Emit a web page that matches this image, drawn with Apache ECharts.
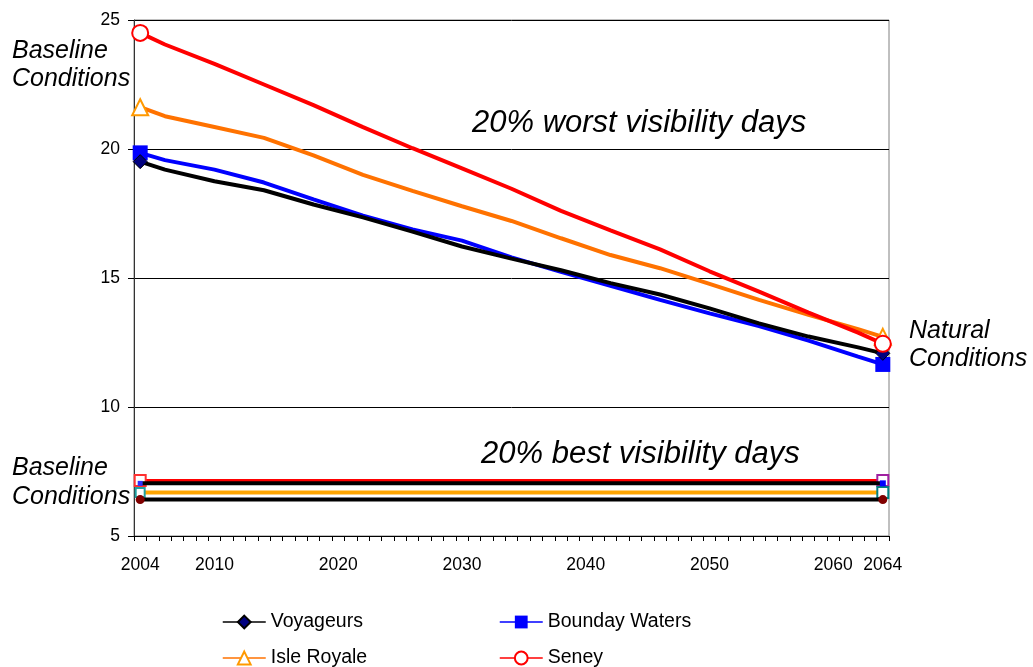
<!DOCTYPE html>
<html>
<head>
<meta charset="utf-8">
<script src="https://cdn.jsdelivr.net/npm/echarts@6/dist/echarts.min.js"></script>
<style>
html,body{margin:0;padding:0;background:#fff;}
#chart{width:1033px;height:667px;}
</style>
</head>
<body>
<div id="chart"></div>
<script>
// ---- categories ----
const firstYear = 2004;
const lastYear = 2064;
const labelYears = ['2004','2010','2020','2030','2040','2050','2060','2064'];

// ---- 20% worst days (values read at these years) ----
const readYears = [2004, 2006, 2010, 2014, 2018, 2022, 2026, 2030, 2034, 2038, 2042, 2046, 2050, 2054, 2058, 2062, 2064];
const voyageurs   = [19.51, 19.20, 18.75, 18.40, 17.85, 17.35, 16.80, 16.22, 15.75, 15.30, 14.80, 14.36, 13.82, 13.24, 12.73, 12.31, 12.08];
const boundary    = [19.85, 19.57, 19.20, 18.70, 18.05, 17.42, 16.88, 16.45, 15.80, 15.24, 14.70, 14.15, 13.63, 13.14, 12.57, 11.95, 11.65];
const isleRoyale  = [21.62, 21.27, 20.85, 20.43, 19.75, 19.00, 18.38, 17.78, 17.21, 16.54, 15.89, 15.38, 14.77, 14.15, 13.57, 13.02, 12.72];
const seney       = [24.50, 24.05, 23.30, 22.50, 21.70, 20.85, 20.03, 19.25, 18.46, 17.60, 16.85, 16.11, 15.26, 14.47, 13.66, 12.88, 12.45];

// ---- 20% best days (flat lines, value at 2004 and 2064) ----
const bestSeney     = [7.15, 7.15];
const bestBoundary  = [7.04, 7.04];
const bestIsle      = [6.69, 6.69];
const bestVoyageurs = [6.41, 6.41];

// ---- axis ----
const yMin = 5, yMax = 25, yStep = 5;

const categories = [];
for (let y = firstYear; y <= lastYear; y++) categories.push(String(y));

function worstData(vals, sym, size) {
  const arr = categories.map(() => null);
  readYears.forEach((yr, i) => {
    const idx = yr - firstYear;
    const isEnd = (i === 0 || i === readYears.length - 1);
    arr[idx] = isEnd ? {value: vals[i], symbol: sym, symbolSize: size}
                     : {value: vals[i], symbol: 'none'};
  });
  return arr;
}
function bestData(vals, startSym, endSym) {
  const arr = categories.map(() => null);
  arr[0] = {value: vals[0], symbol: startSym.s, symbolSize: startSym.size, itemStyle: startSym.style};
  arr[categories.length - 1] = {value: vals[1], symbol: endSym.s, symbolSize: endSym.size, itemStyle: endSym.style};
  return arr;
}

const FONT = '"Liberation Sans", Arial, sans-serif';

const chart = echarts.init(document.getElementById('chart'), null, {renderer: 'canvas'});

const series = [
  {
    name: 'Voyageurs', type: 'line', symbol: 'diamond', symbolSize: 14, showAllSymbol: true,
    connectNulls: true, z: 5,
    data: worstData(voyageurs, 'diamond', 14),
    lineStyle: {color: '#000000', width: 4},
    itemStyle: {color: '#000080', borderColor: '#000000', borderWidth: 1}
  },
  {
    name: 'Bounday Waters', type: 'line', symbol: 'rect', symbolSize: 15, showAllSymbol: true,
    connectNulls: true, z: 4,
    data: worstData(boundary, 'rect', 15),
    lineStyle: {color: '#0000FF', width: 4},
    itemStyle: {color: '#0000FF'}
  },
  {
    name: 'Isle Royale', type: 'line', symbol: 'emptyTriangle', symbolSize: 16, showAllSymbol: true,
    connectNulls: true, z: 3,
    data: worstData(isleRoyale, 'emptyTriangle', 16),
    lineStyle: {color: '#FF7200', width: 4},
    itemStyle: {color: '#FF9900', borderWidth: 1.5}
  },
  {
    name: 'Seney', type: 'line', symbol: 'emptyCircle', symbolSize: 16, showAllSymbol: true,
    connectNulls: true, z: 6,
    data: worstData(seney, 'emptyCircle', 16),
    lineStyle: {color: '#FF0000', width: 4},
    itemStyle: {color: '#FF0000', borderWidth: 1.5}
  },
  {
    name: 'best-seney', type: 'line', showAllSymbol: true, connectNulls: true, z: 3,
    data: bestData(bestSeney,
      {s: 'emptyRect', size: 11, style: {color: '#FF3030'}},
      {s: 'emptyRect', size: 11, style: {color: '#A020A0'}}),
    lineStyle: {color: '#FF0000', width: 3},
    itemStyle: {color: '#FF0000', borderWidth: 1}
  },
  {
    name: 'best-boundary', type: 'line', showAllSymbol: true, connectNulls: true, z: 4,
    data: bestData(bestBoundary,
      {s: 'rect', size: 5, style: {color: '#3030FF'}},
      {s: 'rect', size: 6, style: {color: '#0000FF'}}),
    lineStyle: {color: '#000000', width: 4},
    itemStyle: {color: '#0000FF'}
  },
  {
    name: 'best-isle', type: 'line', showAllSymbol: true, connectNulls: true, z: 3,
    data: bestData(bestIsle,
      {s: 'emptyRect', size: 9, style: {color: '#20A0A0'}},
      {s: 'emptyRect', size: 11, style: {color: '#008080'}}),
    lineStyle: {color: '#FFA500', width: 4},
    itemStyle: {color: '#008080', borderWidth: 1}
  },
  {
    name: 'best-voyageurs', type: 'line', showAllSymbol: true, connectNulls: true, z: 4,
    data: bestData(bestVoyageurs,
      {s: 'circle', size: 9, style: {color: '#800000'}},
      {s: 'circle', size: 9, style: {color: '#800000'}}),
    lineStyle: {color: '#000000', width: 4},
    itemStyle: {color: '#800000'}
  }
];

function legendAt(name, left, top) {
  return {
    data: [name], left: left, top: top, itemWidth: 43, itemHeight: 16, itemGap: 5,
    selectedMode: false, padding: 0,
    textStyle: {fontFamily: FONT, fontSize: 19.5, color: '#000'},
    lineStyle: {width: 1.5}
  };
}

function txt(text, x, y, size) {
  return {
    type: 'text', left: x, top: y, z: 100,
    style: {text: text, fill: '#000', font: 'italic ' + size + 'px ' + FONT}
  };
}

const option = {
  animation: false,
  backgroundColor: '#ffffff',
  grid: {left: 134, right: 144, top: 20, bottom: 131, show: true, borderColor: '#808080', borderWidth: 1, backgroundColor: 'transparent'},
  legend: [
    legendAt('Voyageurs', 222, 612),
    legendAt('Bounday Waters', 499, 612),
    legendAt('Isle Royale', 222, 648),
    legendAt('Seney', 499, 648)
  ],
  xAxis: {
    type: 'category', data: categories, boundaryGap: true,
    axisLine: {lineStyle: {color: '#000', width: 1}},
    axisTick: {show: true, interval: 0, length: 5, inside: false, lineStyle: {color: '#000'}},
    axisLabel: {
      interval: function (index, value) { return labelYears.indexOf(value) >= 0; },
      fontFamily: FONT, fontSize: 17.5, color: '#000', margin: 20
    },
    splitLine: {show: false}
  },
  yAxis: {
    type: 'value', min: yMin, max: yMax, interval: yStep,
    axisLine: {show: true, lineStyle: {color: '#333', width: 1}},
    axisTick: {show: true, length: 6, lineStyle: {color: '#000'}},
    axisLabel: {fontFamily: FONT, fontSize: 17.5, color: '#000', margin: 14},
    splitLine: {show: true, lineStyle: {color: '#000', width: 1}}
  },
  graphic: [
    txt('Baseline', 12, 39, 25),
    txt('Conditions', 12, 67, 25),
    txt('20% worst visibility days', 472, 108, 31),
    txt('Natural', 909, 319, 25),
    txt('Conditions', 909, 347, 25),
    txt('20% best visibility days', 481, 439, 31),
    txt('Baseline', 12, 456, 25),
    txt('Conditions', 12, 485, 25)
  ],
  series: series
};

chart.setOption(option);
</script>
</body>
</html>
